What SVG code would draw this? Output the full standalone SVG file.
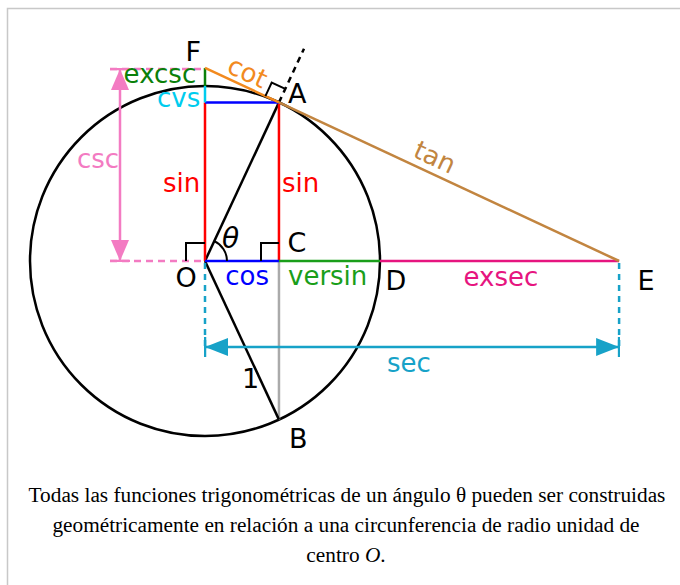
<svg xmlns="http://www.w3.org/2000/svg" width="680" height="585" viewBox="0 0 680 585">
<style>
.ln{fill:none;stroke-width:2.5}
.lbl{font-family:"DejaVu Sans",sans-serif;font-size:27px;fill:#000}
.fn{font-family:"DejaVu Sans",sans-serif;font-size:26px}
.cap{font-family:"Liberation Serif","Times New Roman",serif;font-size:21.3px;fill:#000;text-anchor:middle}
.ra{fill:none;stroke:#000;stroke-width:2}
</style>
<defs>
<marker id="secArrow" viewBox="0 0 24 20" refX="23" refY="10" markerWidth="24" markerHeight="20" markerUnits="userSpaceOnUse" orient="auto-start-reverse">
<path d="M0,1 L23,10 L0,19 z" fill="#17a2c8"/>
<path d="M23,0 V20" stroke="#17a2c8" stroke-width="2.5"/>
</marker>
<marker id="cscArrow" viewBox="0 0 22 20" refX="21" refY="10" markerWidth="22" markerHeight="20" markerUnits="userSpaceOnUse" orient="auto-start-reverse">
<path d="M0,1 L21,10 L0,19 z" fill="#f37bc2"/>
<path d="M21,0 V20" stroke="#f37bc2" stroke-width="2.5"/>
</marker>
</defs>
<rect x="7.5" y="8.5" width="700" height="600" fill="#fff" stroke="#c8c8c8" stroke-width="1.5"/>

<g id="circle"><circle cx="205" cy="261" r="175" class="ln" stroke="#000"/></g>

<g id="connectors">
<path id="guide-cb" class="ln" stroke="#aaaaaa" d="M278.96,261 V419.6"/>
<path id="radius-oa" class="ln" stroke="#000" d="M205,261 L278.96,102.4"/>
<path id="radius-ob" class="ln" stroke="#000" d="M205,261 L278.96,419.6"/>
<path id="ext-a" class="ln" stroke="#000" stroke-dasharray="6,5" d="M278.96,102.4 L304,48.7"/>
<path id="sin" class="ln" stroke="#ff0000" d="M205,261 V102.4 M278.96,261 V102.4"/>
<path id="cos" class="ln" stroke="#0000ff" d="M205,261 H278.96 M205,102.4 H278.96"/>
<path id="versin" class="ln" stroke="#1a9e1a" d="M278.96,261 H380"/>
<path id="exsec" class="ln" stroke="#e6157f" d="M380,261 H619.1"/>
<path id="cvs" class="ln" stroke="#00ccee" d="M205,102.4 V86"/>
<path id="excsc" class="ln" stroke="#0a800a" d="M205,86 V67.9"/>
<path id="cot" class="ln" stroke="#f28a1e" d="M205,67.9 L278.96,102.4"/>
<path id="tan" class="ln" stroke="#c28540" d="M278.96,102.4 L619.1,261"/>
<path id="sec-guides" class="ln" stroke="#17a2c8" stroke-dasharray="6,5" d="M205,263 V347 M619.1,263 V347"/>
<path id="sec" class="ln" stroke="#17a2c8" d="M205,347 H619.1" marker-start="url(#secArrow)" marker-end="url(#secArrow)"/>
<path id="csc-guides" class="ln" stroke="#f37bc2" stroke-dasharray="7,5" d="M110,69 H205 M110,261 H203"/>
<path id="csc" class="ln" stroke="#f37bc2" d="M120,69 V261" marker-start="url(#cscArrow)" marker-end="url(#cscArrow)"/>
<path id="right-o" class="ra" d="M186,261 V243 H205"/>
<path id="right-c" class="ra" d="M261,261 V243 H278.96"/>
<path id="right-a" class="ra" d="M265.4,96.1 L271.7,82.5 L285.3,88.8"/>
<path id="theta-arc" class="ra" d="M227,261 A22,22 0 0 0 214.3,241.1"/>
</g>

<g id="point-labels">
<text class="lbl" x="185.5" y="61">F</text>
<text class="lbl" x="288" y="103">A</text>
<text class="lbl" x="287.5" y="252">C</text>
<text class="lbl" x="175.5" y="287">O</text>
<text class="lbl" x="385.4" y="290">D</text>
<text class="lbl" x="637.4" y="290">E</text>
<text class="lbl" x="289" y="448">B</text>
<text class="lbl" x="242" y="388">1</text>
<text class="lbl" x="222" y="248" font-style="italic" style="font-size:28px">θ</text>
</g>

<g id="function-labels">
<text class="fn" x="163" y="192" fill="#ff0000">sin</text>
<text class="fn" x="282" y="192" fill="#ff0000">sin</text>
<text class="fn" x="225.3" y="285" fill="#0000ff">cos</text>
<text class="fn" x="288" y="285" fill="#1a9e1a">versin</text>
<text class="fn" x="463.5" y="285.5" fill="#e6157f">exsec</text>
<text class="fn" x="387" y="372" fill="#17a2c8">sec</text>
<text class="fn" x="77" y="168" fill="#f37bc2">csc</text>
<text class="fn" x="123.6" y="83" fill="#0a800a">excsc</text>
<text class="fn" x="157" y="107" fill="#00ccee">cvs</text>
<text class="fn" text-anchor="middle" fill="#f28a1e" transform="translate(243.7,80.3) rotate(25)">cot</text>
<text class="fn" text-anchor="middle" fill="#c28540" transform="translate(431,165.3) rotate(25)">tan</text>
</g>

<g id="caption">
<text class="cap" x="347" y="502">Todas las funciones trigonométricas de un ángulo θ pueden ser construidas</text>
<text class="cap" x="346" y="532">geométricamente en relación a una circunferencia de radio unidad de</text>
<text class="cap" x="346" y="562">centro <tspan font-style="italic">O</tspan>.</text>
</g>
</svg>
